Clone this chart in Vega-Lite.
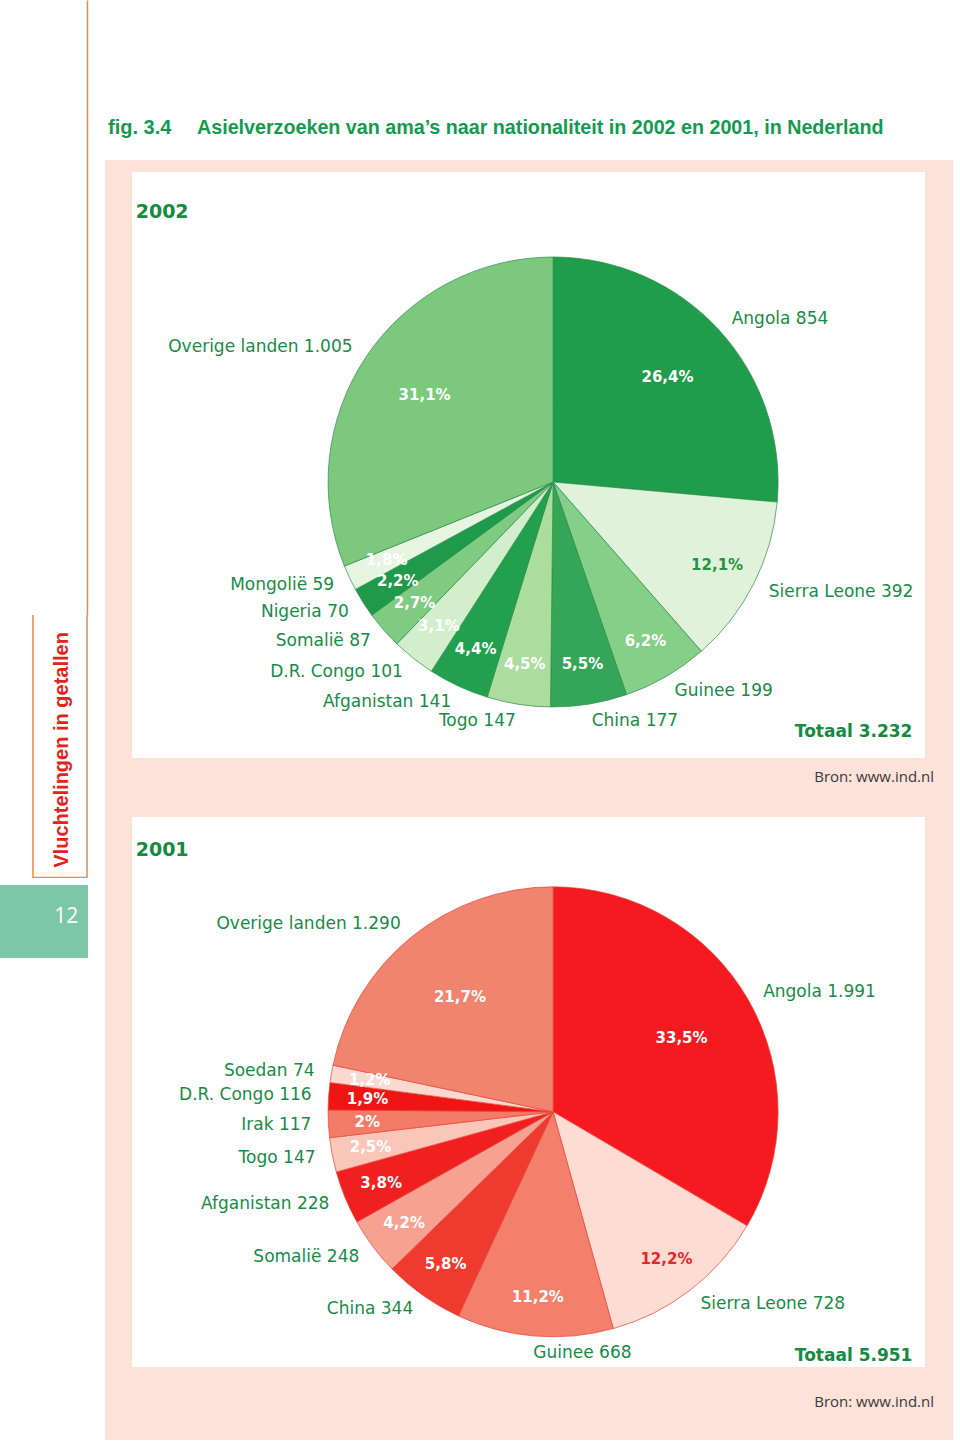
{
  "$schema": "https://vega.github.io/schema/vega-lite/v6.json",
  "background": "#fce2d8",
  "padding": 0,
  "spacing": 0,
  "bounds": "full",
  "config": {"view": {"stroke": null}, "concat": {"spacing": 0}},
  "datasets": {
    "d2002": [
      {"jaar": "2002", "i": 1, "land": "Angola", "n": 854, "pct": "26,4%", "label": "Angola 854"},
      {"jaar": "2002", "i": 2, "land": "Sierra Leone", "n": 392, "pct": "12,1%", "label": "Sierra Leone 392"},
      {"jaar": "2002", "i": 3, "land": "Guinee", "n": 199, "pct": "6,2%", "label": "Guinee 199"},
      {"jaar": "2002", "i": 4, "land": "China", "n": 177, "pct": "5,5%", "label": "China 177"},
      {"jaar": "2002", "i": 5, "land": "Togo", "n": 147, "pct": "4,5%", "label": "Togo 147"},
      {"jaar": "2002", "i": 6, "land": "Afganistan", "n": 141, "pct": "4,4%", "label": "Afganistan 141"},
      {"jaar": "2002", "i": 7, "land": "D.R. Congo", "n": 101, "pct": "3,1%", "label": "D.R. Congo 101"},
      {"jaar": "2002", "i": 8, "land": "Somalië", "n": 87, "pct": "2,7%", "label": "Somalië 87"},
      {"jaar": "2002", "i": 9, "land": "Nigeria", "n": 70, "pct": "2,2%", "label": "Nigeria 70"},
      {"jaar": "2002", "i": 10, "land": "Mongolië", "n": 59, "pct": "1,8%", "label": "Mongolië 59"},
      {"jaar": "2002", "i": 11, "land": "Overige landen", "n": 1005, "pct": "31,1%", "label": "Overige landen 1.005"}
    ],
    "d2001": [
      {"jaar": "2001", "i": 1, "land": "Angola", "n": 1991, "pct": "33,5%", "label": "Angola 1.991"},
      {"jaar": "2001", "i": 2, "land": "Sierra Leone", "n": 728, "pct": "12,2%", "label": "Sierra Leone 728"},
      {"jaar": "2001", "i": 3, "land": "Guinee", "n": 668, "pct": "11,2%", "label": "Guinee 668"},
      {"jaar": "2001", "i": 4, "land": "China", "n": 344, "pct": "5,8%", "label": "China 344"},
      {"jaar": "2001", "i": 5, "land": "Somalië", "n": 248, "pct": "4,2%", "label": "Somalië 248"},
      {"jaar": "2001", "i": 6, "land": "Afganistan", "n": 228, "pct": "3,8%", "label": "Afganistan 228"},
      {"jaar": "2001", "i": 7, "land": "Togo", "n": 147, "pct": "2,5%", "label": "Togo 147"},
      {"jaar": "2001", "i": 8, "land": "Irak", "n": 117, "pct": "2%", "label": "Irak 117"},
      {"jaar": "2001", "i": 9, "land": "D.R. Congo", "n": 116, "pct": "1,9%", "label": "D.R. Congo 116"},
      {"jaar": "2001", "i": 10, "land": "Soedan", "n": 74, "pct": "1,2%", "label": "Soedan 74"},
      {"jaar": "2001", "i": 11, "land": "Overige landen", "n": 1290, "pct": "21,7%", "label": "Overige landen 1.290"}
    ]
  },
  "resolve": {"scale": {"color": "independent"}},
  "hconcat": [
    {
      "spacing": 0,
      "bounds": "flush",
      "resolve": {"scale": {"color": "independent"}},
      "vconcat": [
        {
          "width": 105, "height": 615,
          "view": {"fill": "white"},
          "data": {"values": [{"v": 0.5}]},
          "mark": {"type": "point", "opacity": 0, "size": 0},
          "encoding": {
            "y": {"field": "v", "type": "quantitative", "scale": {"domain": [0, 1]}, "axis": {"orient": "right", "offset": -18, "domainColor": "#e58a4e", "domainWidth": 1.5, "ticks": false, "labels": false, "grid": false, "title": null}}
          }
        },
        {
          "width": 105, "height": 263,
          "view": {"fill": "white"},
          "resolve": {"scale": {"x": "independent", "y": "independent"}},
          "layer": [
            {
              "data": {"values": [{"k": "links"}, {"k": "rechts"}]},
              "mark": {"type": "rule", "color": "#e58a4e", "strokeWidth": 1.5},
              "encoding": {
                "x": {"field": "k", "type": "nominal", "scale": {"type": "point", "padding": 0.472, "align": 0.647}, "axis": null}
              }
            },
            {
              "data": {"values": [{"k": "onder"}]},
              "mark": {"type": "rect", "color": "#e58a4e"},
              "encoding": {
                "x": {"field": "k", "type": "nominal", "scale": {"type": "band", "paddingInner": 0, "paddingOuter": 0.472, "align": 0.647}, "axis": null},
                "y": {"field": "k", "type": "nominal", "scale": {"type": "band", "paddingInner": 0.99, "paddingOuter": 1, "align": 1}, "axis": null}
              }
            },
            {
              "data": {"values": [{"t": "Vluchtelingen in getallen"}]},
              "mark": {"type": "text", "angle": 270, "font": "Liberation Sans", "fontWeight": "bold", "fontSize": 20, "color": "#e2231a", "baseline": "middle", "align": "center"},
              "encoding": {
                "text": {"field": "t", "type": "nominal"},
                "x": {"field": "t", "type": "nominal", "scale": {"type": "point", "align": 0.59}, "axis": null},
                "y": {"field": "t", "type": "nominal", "scale": {"type": "point", "align": 0.513}, "axis": null}
              }
            }
          ]
        },
        {"width": 105, "height": 7, "view": {"fill": "white"}, "data": {"values": [{}]}, "mark": {"type": "text", "text": " "}},
        {
          "width": 105, "height": 73,
          "view": {"fill": "white"},
          "resolve": {"scale": {"x": "independent", "y": "independent"}},
          "layer": [
            {
              "data": {"values": [{"p": "12"}]},
              "mark": {"type": "rect", "color": "#7cc7a6"},
              "encoding": {
                "x": {"field": "p", "type": "nominal", "scale": {"type": "band", "paddingInner": 0, "paddingOuter": 0.0966, "align": 0}, "axis": null},
                "y": {"field": "p", "type": "nominal", "scale": {"type": "band", "paddingInner": 0, "paddingOuter": 0}, "axis": null}
              }
            },
            {
              "data": {"values": [{"t": "12"}]},
              "mark": {"type": "text", "color": "white", "fontSize": 21, "font": "Open Sans", "baseline": "middle", "align": "center"},
              "encoding": {
                "text": {"field": "t", "type": "nominal"},
                "x": {"field": "t", "type": "nominal", "scale": {"type": "point", "align": 0.63}, "axis": null},
                "y": {"field": "t", "type": "nominal", "scale": {"type": "point", "align": 0.44}, "axis": null}
              }
            }
          ]
        },
        {"width": 105, "height": 482, "view": {"fill": "white"}, "data": {"values": [{}]}, "mark": {"type": "text", "text": " "}}
      ]
    },
    {
      "spacing": 12,
      "bounds": "flush",
      "resolve": {"scale": {"color": "independent"}},
      "vconcat": [
        {
          "width": 848, "height": 160,
          "view": {"fill": "white"},
          "resolve": {"scale": {"x": "independent", "y": "independent"}},
          "layer": [
            {
              "data": {"values": [{"t": "fig. 3.4"}]},
              "mark": {"type": "text", "align": "left", "baseline": "middle", "font": "Liberation Sans", "fontWeight": "bold", "fontSize": 20, "color": "#149a50"},
              "encoding": {
                "text": {"field": "t", "type": "nominal"},
                "x": {"field": "t", "type": "nominal", "scale": {"type": "point", "align": 0.0035}, "axis": null},
                "y": {"field": "t", "type": "nominal", "scale": {"type": "point", "align": 0.8}, "axis": null}
              }
            },
            {
              "data": {"values": [{"t": "Asielverzoeken van ama’s naar nationaliteit in 2002 en 2001, in Nederland"}]},
              "mark": {"type": "text", "align": "left", "baseline": "middle", "font": "Liberation Sans", "fontWeight": "bold", "fontSize": 19.7, "color": "#149a50"},
              "encoding": {
                "text": {"field": "t", "type": "nominal"},
                "x": {"field": "t", "type": "nominal", "scale": {"type": "point", "align": 0.1085}, "axis": null},
                "y": {"field": "t", "type": "nominal", "scale": {"type": "point", "align": 0.8}, "axis": null}
              }
            }
          ]
        },
        {
          "spacing": 0,
          "bounds": "flush",
          "resolve": {"scale": {"color": "independent"}},
          "hconcat": [
            {"width": 27, "height": 10, "data": {"values": [{}]}, "mark": {"type": "text", "text": " "}},
            {
              "spacing": 59,
              "bounds": "flush",
              "resolve": {"scale": {"color": "independent"}},
              "vconcat": [
                {
                  "width": 793, "height": 586,
                  "view": {"fill": "white"},
                  "title": {"text": "Bron: www.ind.nl", "orient": "bottom", "anchor": "end", "offset": 12, "dx": 9, "font": "Open Sans", "fontSize": 15, "fontWeight": "normal", "color": "#3a3a3a"},
                  "data": {"name": "d2002"},
                  "resolve": {"scale": {"x": "independent", "y": "independent"}},
                  "layer": [
                    {
                      "mark": {"type": "arc", "radius": 225, "stroke": "#2e8b50", "strokeWidth": 0.7},
                      "encoding": {
                        "theta": {"field": "n", "type": "quantitative", "stack": "normalize"},
                        "order": {"field": "i", "type": "quantitative"},
                        "color": {"field": "land", "type": "nominal", "legend": null,
                          "scale": {"domain": ["Angola", "Sierra Leone", "Guinee", "China", "Togo", "Afganistan", "D.R. Congo", "Somalië", "Nigeria", "Mongolië", "Overige landen"],
                                    "range": ["#1f9d4a", "#e0f3da", "#86cf88", "#35a657", "#aadd9e", "#22a04e", "#d2eecb", "#80cb82", "#1f9a4a", "#e6f5e0", "#7cc97e"]}},
                        "x": {"field": "jaar", "type": "nominal", "scale": {"type": "point", "align": 0.531}, "axis": null},
                        "y": {"field": "jaar", "type": "nominal", "scale": {"type": "point", "align": 0.529}, "axis": null}
                      }
                    },
                    {
                      "mark": {"type": "text", "radius": 184, "font": "DejaVu Sans", "fontSize": 15, "fontWeight": "bold"},
                      "encoding": {
                        "theta": {"field": "n", "type": "quantitative", "stack": "normalize"},
                        "order": {"field": "i", "type": "quantitative"},
                        "x": {"field": "jaar", "type": "nominal", "scale": {"type": "point", "align": 0.531}, "axis": null},
                        "y": {"field": "jaar", "type": "nominal", "scale": {"type": "point", "align": 0.529}, "axis": null},
                        "text": {"condition": {"test": "datum.land === 'Angola' || datum.land === 'Overige landen'", "value": ""}, "field": "pct", "type": "nominal"},
                        "color": {"condition": {"test": "datum.land === 'Sierra Leone'", "value": "#239447"}, "value": "white"}
                      }
                    },
                    {
                      "mark": {"type": "text", "radius": 155, "font": "DejaVu Sans", "fontSize": 15, "fontWeight": "bold", "color": "white"},
                      "encoding": {
                        "theta": {"field": "n", "type": "quantitative", "stack": "normalize"},
                        "order": {"field": "i", "type": "quantitative"},
                        "x": {"field": "jaar", "type": "nominal", "scale": {"type": "point", "align": 0.531}, "axis": null},
                        "y": {"field": "jaar", "type": "nominal", "scale": {"type": "point", "align": 0.529}, "axis": null},
                        "text": {"condition": {"test": "datum.land === 'Angola' || datum.land === 'Overige landen'", "field": "pct", "type": "nominal"}, "value": ""}
                      }
                    },
                    {
                      "mark": {"type": "text", "radius": 242, "font": "DejaVu Sans", "fontSize": 17, "color": "#178c46", "baseline": "middle",
                               "align": {"expr": "datum.n_start + datum.n_end < 1.036 ? 'left' : 'right'"}},
                      "encoding": {
                        "theta": {"field": "n", "type": "quantitative", "stack": "normalize"},
                        "order": {"field": "i", "type": "quantitative"},
                        "x": {"field": "jaar", "type": "nominal", "scale": {"type": "point", "align": 0.531}, "axis": null},
                        "y": {"field": "jaar", "type": "nominal", "scale": {"type": "point", "align": 0.529}, "axis": null},
                        "text": {"field": "label", "type": "nominal"}
                      }
                    },
                    {
                      "data": {"values": [{"t": "2002"}]},
                      "mark": {"type": "text", "font": "DejaVu Sans", "fontWeight": "bold", "fontSize": 19, "color": "#168a42"},
                      "encoding": {
                        "text": {"field": "t", "type": "nominal"},
                        "x": {"field": "t", "type": "nominal", "scale": {"type": "point", "align": 0.038}, "axis": null},
                        "y": {"field": "t", "type": "nominal", "scale": {"type": "point", "align": 0.068}, "axis": null}
                      }
                    },
                    {
                      "data": {"values": [{"t": "Totaal 3.232"}]},
                      "mark": {"type": "text", "font": "DejaVu Sans", "fontWeight": "bold", "fontSize": 17, "color": "#168a42"},
                      "encoding": {
                        "text": {"field": "t", "type": "nominal"},
                        "x": {"field": "t", "type": "nominal", "scale": {"type": "point", "align": 0.91}, "axis": null},
                        "y": {"field": "t", "type": "nominal", "scale": {"type": "point", "align": 0.956}, "axis": null}
                      }
                    }
                  ]
                },
                {
                  "width": 793, "height": 550,
                  "view": {"fill": "white"},
                  "title": {"text": "Bron: www.ind.nl", "orient": "bottom", "anchor": "end", "offset": 28, "dx": 9, "font": "Open Sans", "fontSize": 15, "fontWeight": "normal", "color": "#3a3a3a"},
                  "data": {"name": "d2001"},
                  "resolve": {"scale": {"x": "independent", "y": "independent"}},
                  "layer": [
                    {
                      "mark": {"type": "arc", "radius": 225, "stroke": "#e8453a", "strokeWidth": 0.7},
                      "encoding": {
                        "theta": {"field": "n", "type": "quantitative", "stack": "normalize"},
                        "order": {"field": "i", "type": "quantitative"},
                        "color": {"field": "land", "type": "nominal", "legend": null,
                          "scale": {"domain": ["Angola", "Sierra Leone", "Guinee", "China", "Somalië", "Afganistan", "Togo", "Irak", "D.R. Congo", "Soedan", "Overige landen"],
                                    "range": ["#f51a1f", "#fcdcd3", "#f3806c", "#ef3a30", "#f6a293", "#f02020", "#f9c6b9", "#f47b67", "#f01515", "#fcd9cf", "#f1846f"]}},
                        "x": {"field": "jaar", "type": "nominal", "scale": {"type": "point", "align": 0.531}, "axis": null},
                        "y": {"field": "jaar", "type": "nominal", "scale": {"type": "point", "align": 0.536}, "axis": null}
                      }
                    },
                    {
                      "mark": {"type": "text", "radius": 186, "font": "DejaVu Sans", "fontSize": 15, "fontWeight": "bold"},
                      "encoding": {
                        "theta": {"field": "n", "type": "quantitative", "stack": "normalize"},
                        "order": {"field": "i", "type": "quantitative"},
                        "x": {"field": "jaar", "type": "nominal", "scale": {"type": "point", "align": 0.531}, "axis": null},
                        "y": {"field": "jaar", "type": "nominal", "scale": {"type": "point", "align": 0.536}, "axis": null},
                        "text": {"condition": {"test": "datum.land === 'Angola' || datum.land === 'Overige landen'", "value": ""}, "field": "pct", "type": "nominal"},
                        "color": {"condition": {"test": "datum.land === 'Sierra Leone'", "value": "#e8262a"}, "value": "white"}
                      }
                    },
                    {
                      "mark": {"type": "text", "radius": 148, "font": "DejaVu Sans", "fontSize": 15, "fontWeight": "bold", "color": "white"},
                      "encoding": {
                        "theta": {"field": "n", "type": "quantitative", "stack": "normalize"},
                        "order": {"field": "i", "type": "quantitative"},
                        "x": {"field": "jaar", "type": "nominal", "scale": {"type": "point", "align": 0.531}, "axis": null},
                        "y": {"field": "jaar", "type": "nominal", "scale": {"type": "point", "align": 0.536}, "axis": null},
                        "text": {"condition": {"test": "datum.land === 'Angola' || datum.land === 'Overige landen'", "field": "pct", "type": "nominal"}, "value": ""}
                      }
                    },
                    {
                      "mark": {"type": "text", "radius": 242, "font": "DejaVu Sans", "fontSize": 17, "color": "#178c46", "baseline": "middle",
                               "align": {"expr": "datum.n_start + datum.n_end < 1.036 ? 'left' : 'right'"}},
                      "encoding": {
                        "theta": {"field": "n", "type": "quantitative", "stack": "normalize"},
                        "order": {"field": "i", "type": "quantitative"},
                        "x": {"field": "jaar", "type": "nominal", "scale": {"type": "point", "align": 0.531}, "axis": null},
                        "y": {"field": "jaar", "type": "nominal", "scale": {"type": "point", "align": 0.536}, "axis": null},
                        "text": {"field": "label", "type": "nominal"}
                      }
                    },
                    {
                      "data": {"values": [{"t": "2001"}]},
                      "mark": {"type": "text", "font": "DejaVu Sans", "fontWeight": "bold", "fontSize": 19, "color": "#168a42"},
                      "encoding": {
                        "text": {"field": "t", "type": "nominal"},
                        "x": {"field": "t", "type": "nominal", "scale": {"type": "point", "align": 0.038}, "axis": null},
                        "y": {"field": "t", "type": "nominal", "scale": {"type": "point", "align": 0.06}, "axis": null}
                      }
                    },
                    {
                      "data": {"values": [{"t": "Totaal 5.951"}]},
                      "mark": {"type": "text", "font": "DejaVu Sans", "fontWeight": "bold", "fontSize": 17, "color": "#168a42"},
                      "encoding": {
                        "text": {"field": "t", "type": "nominal"},
                        "x": {"field": "t", "type": "nominal", "scale": {"type": "point", "align": 0.91}, "axis": null},
                        "y": {"field": "t", "type": "nominal", "scale": {"type": "point", "align": 0.98}, "axis": null}
                      }
                    }
                  ]
                }
              ]
            }
          ]
        }
      ]
    }
  ]
}
